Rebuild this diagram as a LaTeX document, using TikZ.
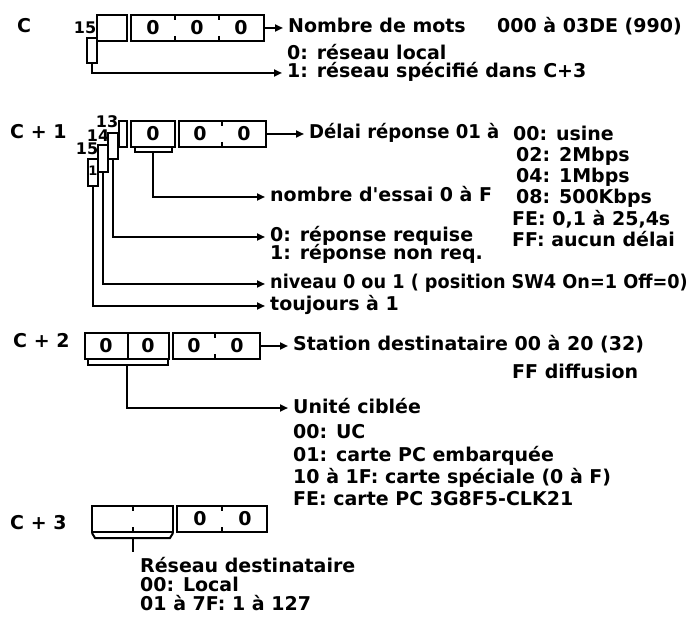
\documentclass[tikz,border=0pt]{standalone}
\usepackage{fontspec}
\setmainfont{DejaVu Sans}
\usetikzlibrary{arrows.meta, positioning}

\begin{document}
\begin{tikzpicture}[x=1pt, y=-1pt,
	font=\fontsize{19}{22}\selectfont\bfseries,
	bx/.style={draw, line width=2pt, minimum height=26pt, inner sep=0pt},
	bit/.style={draw, line width=2pt, minimum width=10pt, inner sep=0pt},
	txt/.style={anchor=west, inner xsep=5pt, inner ysep=0pt, text height=14pt, text depth=4pt},
	num/.style={font=\fontsize{16}{16}\selectfont\bfseries, inner sep=0pt},
	ln/.style={line width=2pt},
	fl/.style={-{Triangle[length=8pt, width=7pt]}, line width=2pt}]

	\useasboundingbox (0,0) rectangle (693,617);

	% --- mot C ---
	\begin{scope}[yshift=-28pt]
		\node[txt] (lblC) at (12,0) {C};
		\node[num] (n15C) at (85,0) {15};
		\node[bx, minimum width=30pt] (extC) at (112,0) {};
		\node[bit, minimum height=25pt] (b15C) at (92,22.5) {};
		\node[bx, minimum width=133pt] (motC) at (197.5,0) {};
		\draw[ln] (175,-13) -- (175,-8) (175,8) -- (175,13)
			(219,-13) -- (219,-8) (219,8) -- (219,13);
		\node (dC1) at (153,0) {0};
		\node (dC2) at (197,0) {0};
		\node (dC3) at (241,0) {0};
		\node[txt] (nbmots) at (283,0) {Nombre de mots};
		\node[txt] (nbval) at (492,0) {000 à 03DE (990)};
		\node[txt] (res0) at (282,27) {0: réseau local};
		\node[txt] (res1) at (282,45) {1: réseau spécifié dans C+3};
		\draw[fl] (motC) -- (nbmots);
		\draw[fl] (b15C.south) |- (res1.west);
	\end{scope}
	% --- mot C + 1 ---
	\begin{scope}[yshift=-134pt]
		\node[txt] (lblC1) at (5,0) {C + 1};
		\node[num] (n13) at (107,-12) {13};
		\node[num] (n14) at (98,2) {14};
		\node[num] (n15) at (87,15) {15};
		\node[bit, minimum height=27pt] (b15) at (93,38.5) {\raisebox{3pt}{\fontsize{13}{13}\selectfont 1}};
		\node[bit, minimum height=27pt] (b14) at (103,24.5) {};
		\node[bit, minimum height=26pt] (b13) at (113,12) {};
		\node[bit, minimum height=26pt, minimum width=8pt] (b12) at (123,0) {};
		\node[bx, minimum width=44pt] (essC1) at (153,0) {};
		\node[bx, minimum width=87pt] (delC1) at (222.5,0) {};
		\draw[ln] (222,-13) -- (222,-8) (222,8) -- (222,13);
		\node (dE1) at (153,0) {0};
		\node (dE2) at (200,0) {0};
		\node (dE3) at (244,0) {0};
		\node[txt] (delai) at (304,0) {\scalebox{0.95}[1]{Délai réponse 01 à}};
		\node[txt] (v00) at (508,2) {00: usine};
		\node[txt] (v02) at (511,23) {02: 2Mbps};
		\node[txt] (v04) at (511,44) {04: 1Mbps};
		\node[txt] (v08) at (511,65) {08: 500Kbps};
		\node[txt] (vFE) at (507,87) {FE: 0,1 à 25,4s};
		\node[txt] (vFF) at (507,108) {FF: aucun délai};
		\draw[ln] (135,14) -- (135,18) -- (172,18) -- (172,14);
		\coordinate (brE) at (153,18);
		\node[txt] (essai) at (265,63) {nombre d\textquotesingle essai\ 0 à F};
		\node[txt] (rep0) at (265,103) {0: réponse requise};
		\node[txt] (rep1) at (265,121) {1: réponse non req.};
		\node[txt] (niv) at (265,150) {\scalebox{0.93}[1]{niveau 0 ou 1 ( position SW4 On=1 Off=0)}};
		\node[txt] (tjr) at (265,172) {toujours à 1};
		\draw[fl] (delC1) -- (delai);
		\draw[fl] (brE) |- (essai.west);
		\draw[fl] (b13.south) |- (rep0.west);
		\draw[fl] (b14.south) |- (niv.west);
		\draw[fl] (b15.south) |- (tjr.west);
	\end{scope}
	% --- mot C + 2 ---
	\begin{scope}[yshift=-346pt]
		\node[txt] (lblC2) at (8,-3) {C + 2};
		\node[bx, minimum width=43pt] (uniA) at (106.5,0) {};
		\node[bx, minimum width=41pt] (uniB) at (148.5,0) {};
		\node[bx, minimum width=87pt] (staC2) at (216.5,0) {};
		\draw[ln] (215,-13) -- (215,-8) (215,8) -- (215,13);
		\node (dU1) at (106,0) {0};
		\node (dU2) at (148,0) {0};
		\node (dS1) at (194,0) {0};
		\node (dS2) at (237,0) {0};
		\node[txt] (station) at (288,0) {Station destinataire 00 à 20 (32)};
		\node[txt] (diff) at (507,27) {FF diffusion};
		\draw[ln] (88,14) -- (88,19) -- (168,19) -- (168,14);
		\coordinate (brU) at (127,19);
		\node[txt] (unite) at (288,62) {Unité ciblée};
		\node[txt] (u00) at (288,87) {00: UC};
		\node[txt] (u01) at (288,110) {01: carte PC embarquée};
		\node[txt] (u10) at (288,132) {10 à 1F: carte spéciale (0 à F)};
		\node[txt] (uFE) at (288,154) {FE: carte PC 3G8F5-CLK21};
		\draw[fl] (staC2) -- (station);
		\draw[fl] (brU) |- (unite.west);
	\end{scope}
	% --- mot C + 3 ---
	\begin{scope}[yshift=-519pt]
		\node[txt] (lblC3) at (5,5) {C + 3};
		\node[bx, minimum width=81pt] (resC3) at (132.5,0) {};
		\node[bx, minimum width=90pt] (locC3) at (222,0) {};
		\draw[ln] (133,-13) -- (133,-8) (133,8) -- (133,13)
			(222,-13) -- (222,-8) (222,8) -- (222,13);
		\node (dR1) at (200,0) {0};
		\node (dR2) at (245,0) {0};
		\draw[ln] (92,14) -- (95,19) -- (170,19) -- (173,14);
		\coordinate (brR) at (133,19);
		\draw[ln] (brR) -- ++(0,14);
		\node[txt] (resd) at (135,48) {Réseau destinataire};
		\node[txt] (r00) at (135,67) {00: Local};
		\node[txt] (r01) at (135,86) {01 à 7F: 1 à 127};
	\end{scope}
\end{tikzpicture}
\end{document}
